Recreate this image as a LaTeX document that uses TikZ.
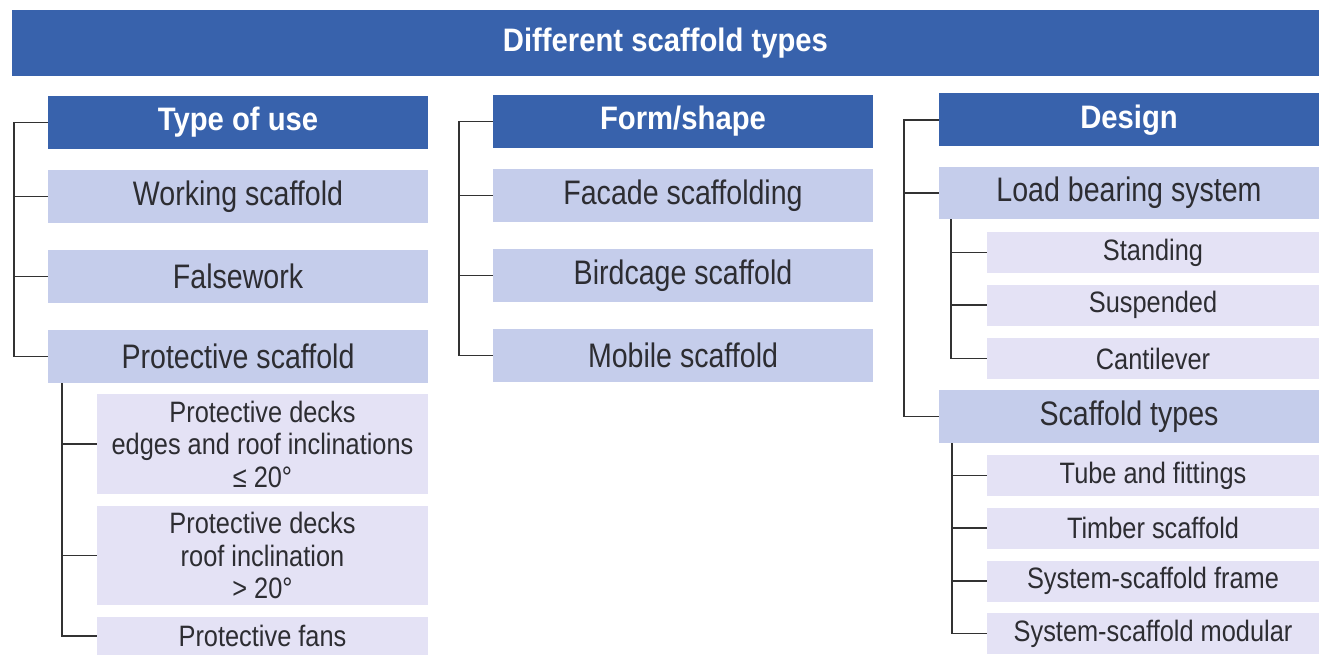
\documentclass[tikz,border=0pt]{standalone}
\usepackage{fontspec}
\setmainfont{Liberation Sans}[FakeStretch=0.9]
\newfontfamily\midfont{Liberation Sans}[FakeStretch=0.84]
\newfontfamily\subfont{Liberation Sans}[FakeStretch=0.86]
\definecolor{hdr}{RGB}{56,98,172}
\definecolor{midbox}{RGB}{197,205,235}
\definecolor{subbox}{RGB}{228,226,245}
\definecolor{txt}{RGB}{45,45,50}
\definecolor{ln}{RGB}{50,50,50}
\tikzset{
  hdrbox/.style={fill=hdr, text=white, inner sep=0pt, minimum width=380pt, minimum height=53pt, font=\fontsize{32.5}{36}\selectfont\bfseries},
  midnode/.style={fill=midbox, text=txt, inner sep=0pt, minimum width=380pt, minimum height=53pt, font=\midfont\fontsize{34}{38}\selectfont},
  subnode/.style={fill=subbox, text=txt, inner sep=0pt, minimum width=332pt, minimum height=41pt, align=center, font=\subfont\fontsize{29.5}{32.5}\selectfont},
  conn/.style={draw=ln, line width=1.5pt}
}
\begin{document}
\begin{tikzpicture}[x=1pt,y=-1pt]
\useasboundingbox[fill=white] (0,0) rectangle (1319,655);
% title
\node[hdrbox, minimum width=1307pt, minimum height=66pt] (title) at (665.5,43) {Different scaffold types};
% column 1
\node[hdrbox] (tu) at (238,122.5) {Type of use};
\node[midnode] (ws) at (238,196.5) {Working scaffold};
\node[midnode] (fw) at (238,276.5) {Falsework};
\node[midnode] (ps) at (238,356.5) {Protective scaffold};
\node[subnode, minimum width=331pt, minimum height=100pt] (pd1) at (262.5,444) {Protective decks\\edges and roof inclinations\\≤ 20°};
\node[subnode, minimum width=331pt, minimum height=99pt] (pd2) at (262.5,555.5) {Protective decks\\roof inclination\\> 20°};
\node[subnode, minimum width=331pt, minimum height=38pt] (pf) at (262.5,636) {Protective fans};
\coordinate (c1) at (14,122.5);
\draw[conn] (tu.west) -- (c1) |- (ps.west);
\draw[conn] (ws.west) -- (ws.west -| c1);
\draw[conn] (fw.west) -- (fw.west -| c1);
\coordinate (c1s) at (62,383);
\draw[conn] (c1s) |- (pf.west);
\draw[conn] (pd1.west) -- (pd1.west -| c1s);
\draw[conn] (pd2.west) -- (pd2.west -| c1s);
% column 2
\node[hdrbox] (fs) at (683,121.5) {Form/shape};
\node[midnode] (fa) at (683,195.5) {Facade scaffolding};
\node[midnode] (bc) at (683,275.5) {Birdcage scaffold};
\node[midnode] (mo) at (683,355.5) {Mobile scaffold};
\coordinate (c2) at (459,121.5);
\draw[conn] (fs.west) -- (c2) |- (mo.west);
\draw[conn] (fa.west) -- (fa.west -| c2);
\draw[conn] (bc.west) -- (bc.west -| c2);
% column 3
\node[hdrbox] (de) at (1129,120) {Design};
\node[midnode, minimum height=52pt] (lb) at (1129,193) {Load bearing system};
\node[subnode] (st) at (1153,252.5) {Standing};
\node[subnode] (su) at (1153,305) {Suspended};
\node[subnode] (ca) at (1153,358.5) {Cantilever};
\node[midnode] (sct) at (1129,416.5) {Scaffold types};
\node[subnode] (tf) at (1153,475.5) {Tube and fittings};
\node[subnode] (ti) at (1153,528) {Timber scaffold};
\node[subnode] (sf) at (1153,581) {System-scaffold frame};
\node[subnode] (sm) at (1153,633.5) {System-scaffold modular};
\coordinate (c3) at (904,120);
\draw[conn] (de.west) -- (c3) |- (sct.west);
\draw[conn] (lb.west) -- (lb.west -| c3);
\coordinate (c3a) at (951,219);
\draw[conn] (c3a) |- (ca.west);
\draw[conn] (st.west) -- (st.west -| c3a);
\draw[conn] (su.west) -- (su.west -| c3a);
\coordinate (c3b) at (952,443);
\draw[conn] (c3b) |- (sm.west);
\draw[conn] (tf.west) -- (tf.west -| c3b);
\draw[conn] (ti.west) -- (ti.west -| c3b);
\draw[conn] (sf.west) -- (sf.west -| c3b);
\end{tikzpicture}
\end{document}
